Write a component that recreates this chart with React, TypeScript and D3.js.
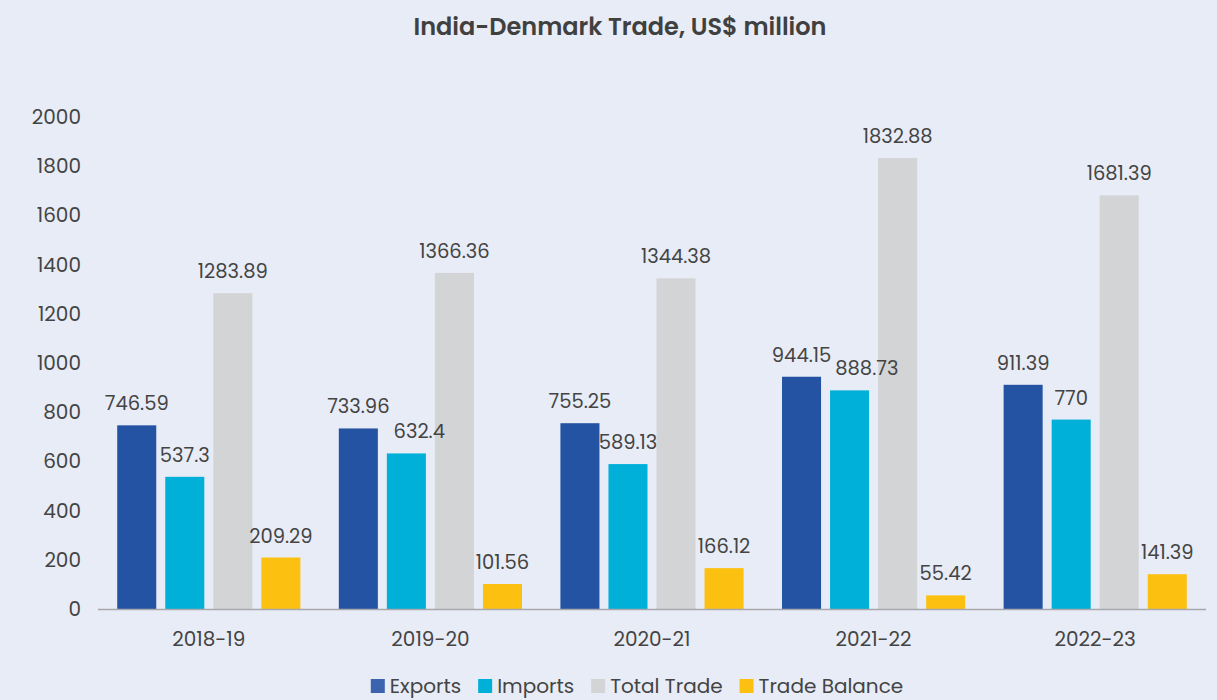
import * as d3 from 'd3';
import React, { useEffect, useRef } from 'react';

// data
const years = ['2018-19', '2019-20', '2020-21', '2021-22', '2022-23'];
const seriesNames = ['Exports', 'Imports', 'Total Trade', 'Trade Balance'];
const exportsVals = [746.59, 733.96, 755.25, 944.15, 911.39];
const importsVals = [537.3, 632.4, 589.13, 888.73, 770];
const totalVals = [1283.89, 1366.36, 1344.38, 1832.88, 1681.39];
const balanceVals = [209.29, 101.56, 166.12, 55.42, 141.39];
const yTicks = [0, 200, 400, 600, 800, 1000, 1200, 1400, 1600, 1800, 2000];
const colors = ['#2453A3', '#00B0D8', '#D3D4D6', '#FCC010'];
const legendColors = ['#3B63AE', '#00B0D8', '#D3D4D6', '#FCC010'];

const W = 1217;
const H = 700;
const FONT = 'Poppins, "Open Sans", sans-serif';
const TXT = '#444444';

export default function App() {
	const ref = useRef<SVGSVGElement>(null);

	useEffect(() => {
		const svg = d3.select(ref.current);
		svg.selectAll('*').remove();

		const margin = { left: 98, right: 11, top: 117, bottom: 91 };
		const plotBottom = H - margin.bottom;

		svg.append('rect').attr('width', W).attr('height', H).attr('fill', '#E8ECF6');

		const x0 = d3.scaleBand().domain(years).range([margin.left, W - margin.right]).padding(0);
		const x1 = d3.scaleBand()
			.domain(seriesNames)
			.range([0, x0.bandwidth()])
			.paddingInner(0.1875)
			.paddingOuter(0.4);
		const y = d3.scaleLinear().domain([0, 2000]).range([plotBottom, margin.top]);

		// title
		svg.append('text')
			.attr('x', 620).attr('y', 35)
			.attr('text-anchor', 'middle')
			.attr('font-family', FONT)
			.attr('font-weight', 600)
			.attr('font-size', 24)
			.attr('fill', '#404040')
			.text('India-Denmark Trade, US$ million');

		// y ticks
		svg.append('g')
			.selectAll('text')
			.data(yTicks)
			.join('text')
			.attr('x', 81)
			.attr('y', d => y(d))
			.attr('dy', '0.35em')
			.attr('text-anchor', 'end')
			.attr('font-family', FONT)
			.attr('font-size', 20)
			.attr('fill', TXT)
			.text(d => d);

		const table = years.map((yr, i) => ({
			year: yr,
			values: [exportsVals[i], importsVals[i], totalVals[i], balanceVals[i]]
		}));

		const groups = svg.append('g')
			.selectAll('g')
			.data(table)
			.join('g')
			.attr('transform', d => `translate(${x0(d.year)},0)`);

		groups.selectAll('rect')
			.data(d => d.values.map((v, j) => ({ v, name: seriesNames[j], j })))
			.join('rect')
			.attr('x', d => x1(d.name)!)
			.attr('width', x1.bandwidth())
			.attr('y', d => y(d.v))
			.attr('height', d => plotBottom - y(d.v))
			.attr('fill', d => colors[d.j]);

		groups.each(function () {
			const labels = d3.select(this).selectAll('text.lbl')
				.data((d: any) => d.values.map((v: number, j: number) => ({ v, name: seriesNames[j], j })))
				.join('text')
				.attr('class', 'lbl')
				.attr('x', (d: any) => x1(d.name)! + x1.bandwidth() / 2)
				.attr('y', (d: any) => y(d.v) - 15)
				.attr('text-anchor', 'middle')
				.attr('font-family', FONT)
				.attr('font-size', 19.5)
				.attr('fill', TXT)
				.text((d: any) => String(d.v));

			// push a label right if it collides with its left neighbour
			const nodes = labels.nodes() as SVGTextElement[];
			for (let k = 1; k < nodes.length; k++) {
				const a = nodes[k - 1].getBBox();
				const b = nodes[k].getBBox();
				const vOverlap = a.y < b.y + b.height && b.y < a.y + a.height;
				if (vOverlap && b.x < a.x + a.width + 4) {
					const shift = a.x + a.width + 4 - b.x;
					nodes[k].setAttribute('x', String(+nodes[k].getAttribute('x')! + shift));
				}
			}
		});

		// x axis line
		svg.append('line')
			.attr('x1', margin.left).attr('x2', W - margin.right)
			.attr('y1', plotBottom + 0.5).attr('y2', plotBottom + 0.5)
			.attr('stroke', '#A6A8AD')
			.attr('stroke-width', 1.5);

		svg.append('g')
			.selectAll('text')
			.data(years)
			.join('text')
			.attr('x', d => x0(d)! + x0.bandwidth() / 2)
			.attr('y', plotBottom + 37)
			.attr('text-anchor', 'middle')
			.attr('font-family', FONT)
			.attr('font-size', 20)
			.attr('fill', TXT)
			.text(d => d);

		// legend, laid out by measured text widths
		const legend = svg.append('g');
		let cx = 0;
		const gap = 17;
		seriesNames.forEach((name, i) => {
			const item = legend.append('g').attr('transform', `translate(${cx},0)`);
			item.append('rect')
				.attr('x', 0).attr('y', -14)
				.attr('width', 14).attr('height', 14)
				.attr('fill', legendColors[i]);
			const t = item.append('text')
				.attr('x', 19).attr('y', 0)
				.attr('font-family', FONT)
				.attr('font-size', 20)
				.attr('fill', TXT)
				.text(name);
			const w = (t.node() as SVGTextElement).getComputedTextLength();
			cx += 19 + w + gap;
		});
		const total = cx - gap;
		legend.attr('transform', `translate(${637 - total / 2},693)`);
	}, []);

	return (
		<svg ref={ref} width={W} height={H} style={{ position: 'absolute', left: 0, top: 0, display: 'block' }} />
	);
}
